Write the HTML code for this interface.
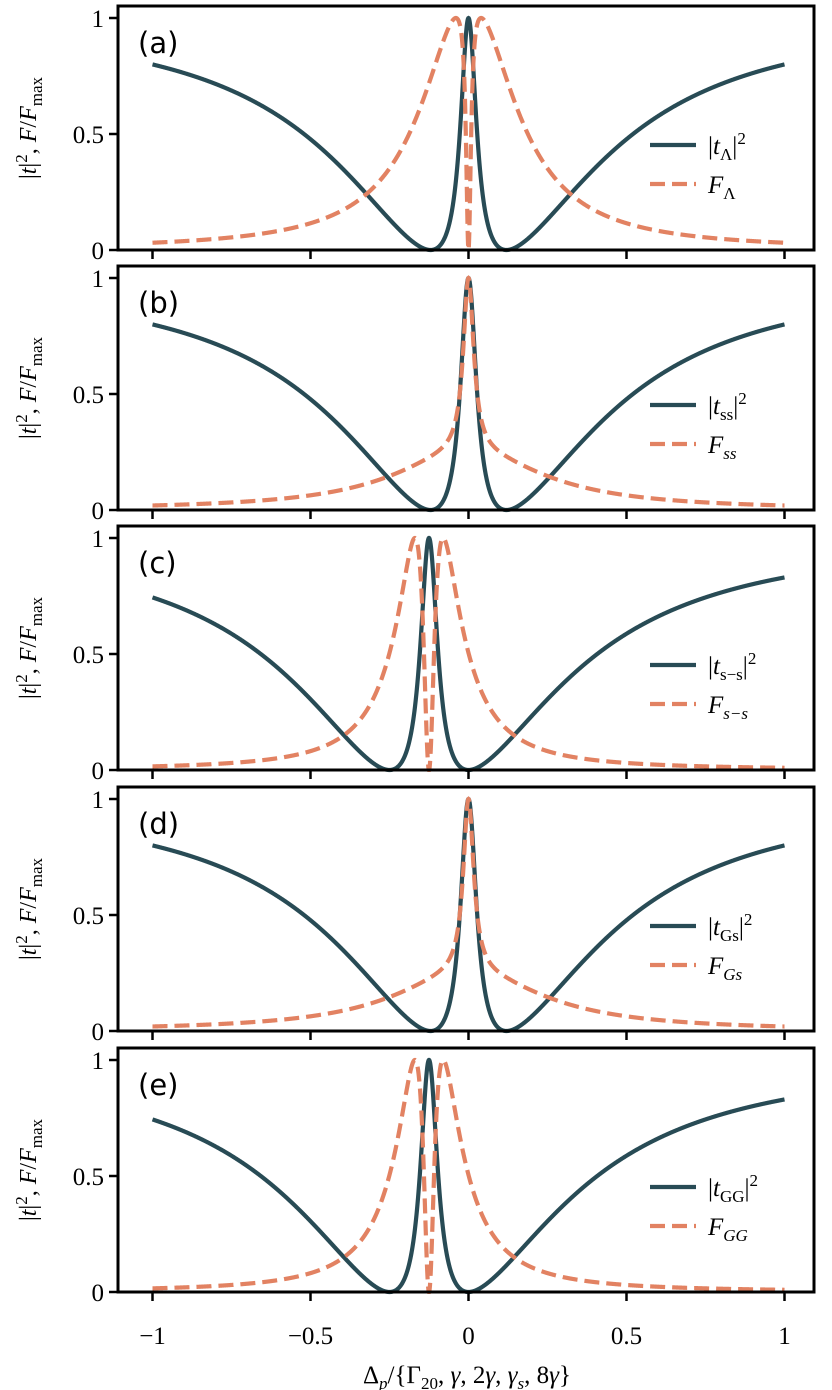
<!DOCTYPE html>
<html><head><meta charset="utf-8"><style>
body{margin:0;background:#fff;}
svg{display:block;}
text{font-family:"Liberation Serif",serif;}
.pl{font-family:"DejaVu Sans","Liberation Sans",sans-serif;}
</style></head><body>
<svg id="fig" width="832" height="1390" viewBox="0 0 832 1390"></svg>
<script>
// ---- data (model parameters) ----
const panelLabels = ["(a)","(b)","(c)","(d)","(e)"];
const tNames = ["t_Λ","t_ss","t_s−s","t_Gs","t_GG"];
const fNames = ["Λ","ss","s−s","Gs","GG"];
// transmission |t|^2 : centre, half dip separation, damping^2
const tCenter = [0, 0, -0.125, 0, -0.125];
const tHalfSep = [0.12, 0.12, 0.125, 0.12, 0.125];
const tDamp2 = [0.243, 0.243, 0.253, 0.243, 0.253];
// F : centre, broad width, broad power, dip width, narrow amplitude, narrow width, broad amplitude
const fCenter = [0, 0, -0.125, 0, -0.125];
const fWidth = [0.17, 0.29, 0.087, 0.29, 0.087];
const fPow = [1, 1, 1, 1, 1];
const fDip = [0.0094, 0, 0.023, 0, 0.023];
const fNarrowAmp = [0, 0.75, 0, 0.75, 0];
const fNarrowW = [0.02, 0.02, 0.02, 0.02, 0.02];
const fBroadAmp = [1, 0.246, 1, 0.246, 1];
const xTicks = [-1, -0.5, 0, 0.5, 1];
const xTickLabels = ["−1","−0.5","0","0.5","1"];
const yTicks = [0, 0.5, 1];
const yTickLabels = ["0","0.5","1"];

const NS="http://www.w3.org/2000/svg";
const svg=document.getElementById('fig');
function el(tag,attrs,parent){const e=document.createElementNS(NS,tag);for(const k in attrs)e.setAttribute(k,attrs[k]);(parent||svg).appendChild(e);return e;}
const L=118,R=814,X0=468.5,XS=316;
const xs=x=>X0+x*XS;
const bottoms=[250,510,770,1031,1292];
const YS=232;
const C1="#284b55",C2="#e28262";

function tFun(i,x){const u=x-tCenter[i],d=tHalfSep[i];const a=(u*u-d*d)**2;return a/(a+tDamp2[i]*u*u);}
function fRaw(i,x){const u=x-fCenter[i];const w=fWidth[i];let b=Math.pow(w*w/(u*u+w*w),fPow[i]);
  if(fDip[i]>0)b*=u*u/(u*u+fDip[i]*fDip[i]);
  const n=fNarrowW[i];return fBroadAmp[i]*b+fNarrowAmp[i]*n*n/(u*u+n*n);}

for(let i=0;i<5;i++){
  const B=bottoms[i],T=B-244;const ys=y=>B-y*YS;
  const g=el('g',{});
  
  
  const N=3000;const pts=[];for(let k=0;k<=N;k++)pts.push(-1+2*k/N);
  let fmax=0;pts.forEach(x=>{fmax=Math.max(fmax,fRaw(i,x));});
  const dF=pts.map((x,k)=>(k?'L':'M')+xs(x).toFixed(2)+','+ys(fRaw(i,x)/fmax).toFixed(2)).join('');
  const dT=pts.map((x,k)=>(k?'L':'M')+xs(x).toFixed(2)+','+ys(tFun(i,x)).toFixed(2)).join('');
  const cp=el('clipPath',{id:'cp'+i},g);el('rect',{x:L,y:T,width:R-L,height:B-T+3},cp);
  const lt=el('path',{d:dT,fill:'none',stroke:C1,'stroke-width':4.2,'clip-path':'url(#cp'+i+')'},g);
  
  
  const lf=el('path',{d:dF,fill:'none',stroke:C2,'stroke-width':4.2,'stroke-dasharray':'15,7','clip-path':'url(#cp'+i+')'},g);
  
  
  const fr=el('rect',{x:L,y:T,width:R-L,height:B-T,fill:'none',stroke:'#000','stroke-width':3},g);
  
  
  xTicks.forEach((v,k)=>{el('line',{x1:xs(v),x2:xs(v),y1:B,y2:B+9,stroke:'#000','stroke-width':2.5},g);
    if(i===4){const t=el('text',{x:xs(v),y:B+52,'font-size':25,'text-anchor':'middle'},g);t.textContent=xTickLabels[k];
      
      }});
  yTicks.forEach((v,k)=>{el('line',{x1:L,x2:L-9,y1:ys(v),y2:ys(v),stroke:'#000','stroke-width':2.5},g);
    const t=el('text',{x:L-14,y:ys(v)+9,'font-size':25,'text-anchor':'end'},g);t.textContent=yTickLabels[k];
    
    });
  const pl=el('text',{x:138,y:T+47,'font-size':29,class:'pl'},g);pl.textContent=panelLabels[i];
  
  
  // y label
  const yl=el('text',{transform:'translate(36,'+(T+122)+') rotate(-90)','font-size':24,'text-anchor':'middle'},g);
  yl.innerHTML='|<tspan font-style="italic">t</tspan>|<tspan dy="-9" font-size="17">2</tspan><tspan dy="9">, </tspan><tspan font-style="italic">F</tspan>/<tspan font-style="italic">F</tspan><tspan dy="6" font-size="17">max</tspan>';
  
  
  // legend
  const ly1=B-105,ly2=B-66;
  const le=el('g',{},g);
  
  
  el('line',{x1:650,x2:696,y1:ly1,y2:ly1,stroke:C1,'stroke-width':4.2},le);
  el('line',{x1:650,x2:696,y1:ly2,y2:ly2,stroke:C2,'stroke-width':4.2,'stroke-dasharray':'15,7'},le);
  const tn=tNames[i].split('_');
  const t1=el('text',{x:708,y:ly1+9,'font-size':25},le);
  t1.innerHTML='|<tspan font-style="italic">t</tspan><tspan dy="6" font-size="17">'+tn[1]+'</tspan><tspan dy="-6">|</tspan><tspan dy="-10" font-size="17">2</tspan>';
  
  
  const t2=el('text',{x:708,y:ly2+9,'font-size':25},le);
  t2.innerHTML='<tspan font-style="italic">F</tspan><tspan dy="6" font-size="17" font-style="'+(i===0?'normal':'italic')+'">'+fNames[i]+'</tspan>';
  
  
}
const xl=el('text',{x:467,y:1383,'font-size':25,'text-anchor':'middle'});
xl.innerHTML='Δ<tspan dy="6" font-size="17" font-style="italic">p</tspan><tspan dy="-6">/{Γ</tspan><tspan dy="6" font-size="17">20</tspan><tspan dy="-6">, </tspan><tspan font-style="italic">γ</tspan>, 2<tspan font-style="italic">γ</tspan>, <tspan font-style="italic">γ</tspan><tspan dy="6" font-size="17" font-style="italic">s</tspan><tspan dy="-6">, 8</tspan><tspan font-style="italic">γ</tspan>}';


</script>
</body></html>
